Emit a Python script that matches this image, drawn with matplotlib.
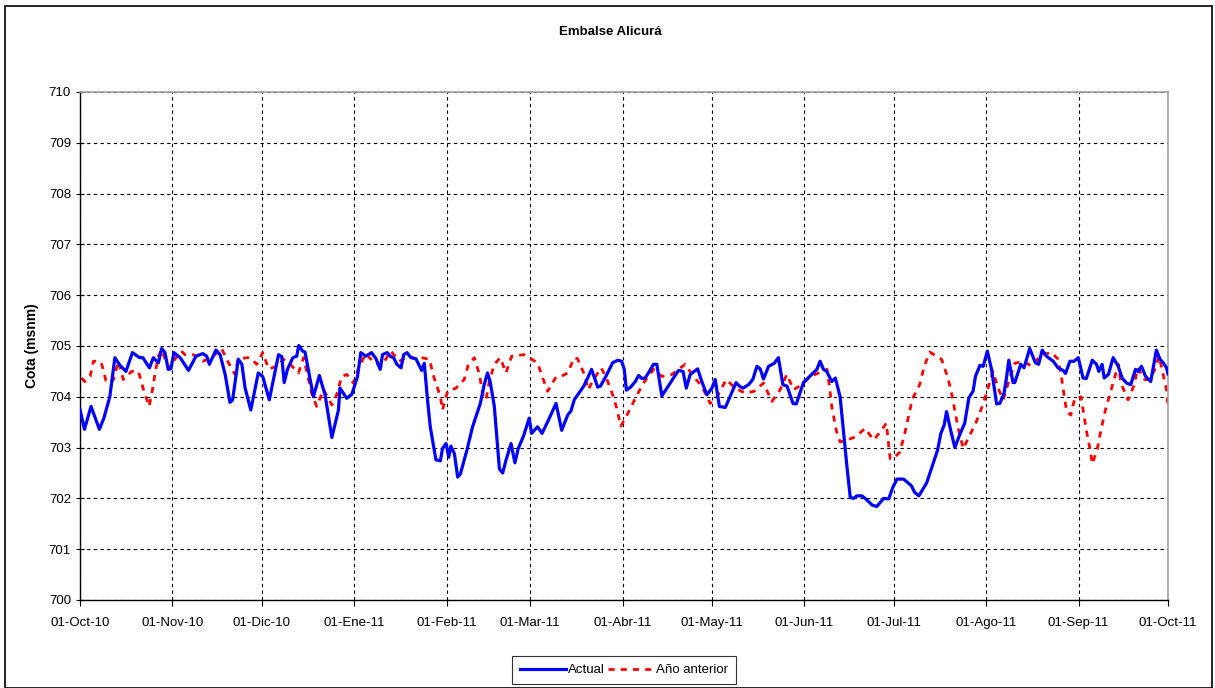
import matplotlib.pyplot as plt
import matplotlib.patches as patches
import pandas as pd

plt.rcParams['font.family'] = ['Liberation Sans', 'DejaVu Sans']

# Datos (días desde 01-Oct-10, cota en m s.n.m.)
actual_days = [0, 1.5, 3.7, 6.5, 8, 10, 11.7, 13.4, 15.4, 17.6, 20, 21.1, 23.3, 24.6, 26.3, 27.4, 28.5,
               29.6, 30.5, 31.5, 33.6, 36.4, 38.9, 41.2, 42.5, 43.4, 45.6, 47, 48.7, 50.3, 51.2, 53.1,
               54.3, 55.4, 57.3, 59.8, 61.3, 63.5, 66.6, 67.7, 68.5, 69.6, 71.4, 72.7, 73.4, 74.7, 75.5,
               78.3, 80.3, 82.2, 84.5, 86.7, 87.2, 89.5, 91.2, 93.1, 94.2, 95.9, 97.8, 99.3, 100.7,
               101.5, 103, 104.3, 105.2, 106.3, 107.7, 108.6, 109.7, 111, 112.7, 114.6, 115.5, 116.6,
               117.5, 119.4, 120.9, 121.6, 122.8, 123.7, 124.4, 125.6, 126.7, 127.6, 129.8, 131.7,
               134.3, 135.6, 136.7, 137.6, 139, 140.7, 141.8, 142.9, 144.6, 145.9, 147, 148.8, 150.7,
               151.5, 153.5, 155, 156.9, 159.7, 161.6, 163.6, 164.7, 165.8, 169, 170.3, 171.6, 173.7,
               174.6, 176.4, 178.7, 180.4, 181.7, 182.6, 183.3, 184.7, 186.3, 187.4, 188.5, 189.6,
               190.7, 192.4, 193.5, 195.2, 196.9, 199.1, 200.8, 202.3, 203.4, 204.7, 207.2, 208.6,
               210.3, 212, 213.1, 214.5, 216.5, 218.1, 220.1, 221.2, 222.4, 224.3, 225.7, 227.1, 228.2,
               229.3, 231, 232.9, 234.3, 235.8, 237.2, 239.2, 240.3, 242.7, 245.5, 247.2, 248.3, 249.4,
               250.5, 252.2, 253.4, 255, 256.2, 257.3, 258.4, 259.5, 260.6, 262.3, 264, 265.7, 267.3,
               269.6, 271.3, 272.7, 274.1, 276.3, 278.9, 280, 281.4, 284, 285.6, 287.7, 288.8, 289.9,
               290.7, 292.1, 293.5, 295.1, 296.8, 298.2, 299.6, 300.4, 301.9, 303, 304.4, 305.8, 307.5,
               308.6, 310, 310.8, 311.6, 313, 313.6, 315.6, 316.7, 318.6, 320.5, 321.6, 322.8, 324.2,
               326.5, 328.1, 329.8, 330.6, 332.1, 333.5, 334.9, 336.5, 337.6, 339.6, 341, 341.8, 342.9,
               343.6, 345, 346.6, 348.3, 349.6, 351.1, 352.5, 354.1, 355, 356.1, 357.5, 359.2, 361.1,
               362.3, 363.4, 364.5, 365]
actual_vals = [703.75, 703.36, 703.81, 703.36, 703.58, 704.0, 704.77, 704.62, 704.5, 704.87, 704.77,
               704.77, 704.57, 704.77, 704.67, 704.95, 704.87, 704.54, 704.55, 704.87, 704.77, 704.52,
               704.8, 704.85, 704.8, 704.64, 704.92, 704.83, 704.44, 703.89, 703.94, 704.74, 704.64,
               704.17, 703.74, 704.47, 704.4, 703.94, 704.83, 704.79, 704.28, 704.54, 704.77, 704.8,
               705.01, 704.9, 704.88, 704.0, 704.42, 704.04, 703.2, 703.74, 704.17, 703.97, 704.05,
               704.4, 704.87, 704.8, 704.87, 704.75, 704.54, 704.83, 704.87, 704.79, 704.77, 704.64,
               704.57, 704.83, 704.87, 704.77, 704.75, 704.52, 704.66, 703.93, 703.41, 702.76, 702.74,
               702.98, 703.08, 702.81, 703.03, 702.88, 702.42, 702.48, 702.95, 703.41, 703.87, 704.24,
               704.47, 704.3, 703.81, 702.58, 702.5, 702.75, 703.08, 702.7, 702.98, 703.23, 703.58,
               703.28, 703.41, 703.28, 703.51, 703.87, 703.34, 703.64, 703.72, 703.94, 704.21, 704.37,
               704.54, 704.19, 704.21, 704.4, 704.67, 704.72, 704.7, 704.54, 704.13, 704.19, 704.3,
               704.42, 704.36, 704.37, 704.47, 704.64, 704.64, 704.02, 704.17, 704.37, 704.52, 704.5,
               704.17, 704.44, 704.55, 704.3, 704.04, 704.17, 704.34, 703.81, 703.79, 704.01, 704.28,
               704.21, 704.17, 704.24, 704.34, 704.6, 704.55, 704.35, 704.6, 704.66, 704.77, 704.24,
               704.21, 703.87, 703.86, 704.28, 704.44, 704.54, 704.7, 704.54, 704.5, 704.3, 704.37,
               704.0, 703.28, 702.62, 702.02, 702.0, 702.05, 702.05, 701.97, 701.87, 701.84, 702.0,
               701.99, 702.22, 702.38, 702.38, 702.25, 702.12, 702.05, 702.3, 702.58, 702.95, 703.28,
               703.44, 703.71, 703.34, 703.0, 703.25, 703.48, 703.98, 704.11, 704.4, 704.62, 704.6,
               704.9, 704.54, 703.86, 703.87, 704.07, 704.37, 704.72, 704.28, 704.28, 704.64, 704.57,
               704.95, 704.67, 704.64, 704.92, 704.8, 704.7, 704.57, 704.52, 704.46, 704.7, 704.7,
               704.77, 704.37, 704.36, 704.72, 704.64, 704.5, 704.64, 704.37, 704.44, 704.77, 704.6,
               704.37, 704.27, 704.24, 704.54, 704.5, 704.6, 704.4, 704.3, 704.92, 704.74, 704.67,
               704.57, 704.45]

prev_days = [0.5, 1.6, 3.4, 4.5, 6.7, 7.3, 8.7, 10, 11.2, 12.9, 14.5, 17.3, 19.6, 21.3, 23.2, 24.4,
             25.2, 26.3, 27.4, 29.6, 34, 35.2, 38, 41.4, 44.7, 47.5, 49.8, 52, 53, 56, 57.1, 59.3,
             61.3, 63.3, 66.2, 68.2, 70.5, 73.3, 75, 76.3, 77.7, 79.4, 81.7, 84.5, 86.1, 87.8, 89.5,
             91.7, 93.7, 95.9, 98.2, 101, 104.3, 107.1, 110.5, 112.7, 114.6, 117.2, 118.8, 120.9,
             121.6, 123.3, 126.1, 128.9, 130.3, 132.3, 134, 135.1, 136.2, 137.3, 139, 141, 142.9,
             144.8, 149, 153.5, 155.4, 156.9, 159.7, 161.4, 163.6, 165.8, 166.9, 169.2, 170.5, 171.9,
             174.8, 176.4, 177.6, 178.7, 180.1, 181.4, 183.5, 186.3, 189, 192.4, 195.2, 198.6, 203,
             205.8, 208.6, 211.4, 213.7, 216.8, 219.8, 223.2, 226.2, 229.3, 232.1, 234.9, 237.1,
             239.4, 242.2, 245, 247.8, 250.6, 251.5, 252.2, 253.7, 255, 257.3, 260.1, 263.4, 266.2,
             268.5, 270.5, 271.8, 272.8, 275, 276.7, 279.2, 281.7, 283.2, 285.1, 289, 291.2, 292.6,
             294.6, 296.3, 298.2, 300.7, 303, 304.7, 306.3, 308, 309.7, 311.9, 313.6, 316.7, 319.2,
             322.6, 326, 328.1, 329.3, 330.2, 331, 332.4, 333.7, 335.8, 336.6, 337.7, 338.8, 339.6,
             341.3, 342.5, 344, 345.5, 347.2, 348.3, 349.2, 351.6, 353.7, 354.8, 357.2, 358.8, 360.6,
             362, 364.5, 365]
prev_vals = [704.37, 704.3, 704.4, 704.7, 704.7, 704.64, 704.32, 704.27, 704.34, 704.7, 704.34, 704.5,
             704.5, 704.14, 703.81, 704.17, 704.47, 704.8, 704.93, 704.57, 704.9, 704.83, 704.83,
             704.7, 704.8, 704.95, 704.67, 704.44, 704.74, 704.77, 704.77, 704.64, 704.87, 704.55,
             704.6, 704.74, 704.64, 704.47, 704.77, 704.44, 704.07, 703.81, 704.14, 703.84, 704.04,
             704.4, 704.44, 704.27, 704.6, 704.85, 704.7, 704.6, 704.9, 704.7, 704.8, 704.74, 704.77,
             704.74, 704.37, 704.01, 703.74, 704.11, 704.17, 704.34, 704.64, 704.77, 704.44, 704.05,
             703.94, 704.3, 704.64, 704.77, 704.47, 704.8, 704.83, 704.67, 704.34, 704.11, 704.39,
             704.4, 704.47, 704.77, 704.75, 704.44, 704.14, 704.3, 704.57, 704.4, 704.21, 704.04,
             703.77, 703.42, 703.64, 703.97, 704.27, 704.54, 704.4, 704.44, 704.64, 704.4, 704.21,
             703.87, 704.0, 704.34, 704.17, 704.07, 704.11, 704.27, 703.91, 704.14, 704.44, 704.14,
             704.24, 704.4, 704.47, 704.54, 704.17, 703.81, 703.34, 703.11, 703.15, 703.21, 703.38,
             703.15, 703.31, 703.48, 702.78, 702.78, 702.91, 703.28, 703.95, 704.24, 704.6, 704.88,
             704.74, 704.37, 704.01, 703.38, 702.98, 703.21, 703.51, 703.86, 704.19, 704.5, 704.17,
             703.94, 704.37, 704.66, 704.7, 704.6, 704.83, 704.87, 704.74, 704.37, 704.01, 703.71,
             703.64, 703.97, 704.0, 703.71, 703.31, 702.98, 702.68, 702.98, 703.34, 703.74, 704.05,
             704.4, 704.64, 704.27, 703.94, 704.24, 704.57, 704.34, 704.34, 704.54, 704.8, 704.14,
             703.81]

tick_dates = pd.date_range('2010-10-01', '2011-10-01', freq='MS')
tick_labels = ['01-Oct-10', '01-Nov-10', '01-Dic-10', '01-Ene-11', '01-Feb-11', '01-Mar-11',
               '01-Abr-11', '01-May-11', '01-Jun-11', '01-Jul-11', '01-Ago-11', '01-Sep-11',
               '01-Oct-11']

start = pd.Timestamp('2010-10-01')
actual_x = start + pd.to_timedelta(actual_days, unit='D')
prev_x = start + pd.to_timedelta(prev_days, unit='D')

fig = plt.figure(figsize=(12.15, 6.88), dpi=100)
ax = fig.add_axes([80 / 1215, 88 / 688, 1088 / 1215, 508 / 688])

ax.plot(actual_x, actual_vals, color='#0000ff', lw=2.3, label='Actual', zorder=3)
ax.plot(prev_x, prev_vals, color='#ff0000', lw=2.0, linestyle=(0, (2.2, 2.2)),
        label='Año anterior', zorder=2)

ax.set_xlim(tick_dates[0], tick_dates[-1])
ax.set_ylim(700, 710)
ax.set_xticks(tick_dates)
ax.set_xticklabels(tick_labels, fontsize=9.5)
ax.set_yticks(range(700, 711))
ax.tick_params(axis='y', labelsize=9.5, direction='inout', length=6, width=0.8)
ax.tick_params(axis='x', direction='out', length=4, width=0.8, pad=8)
ax.grid(True, color='black', linestyle=(0, (3, 3)), linewidth=0.8)
ax.set_axisbelow(True)

for s in ['top', 'right']:
    ax.spines[s].set_color('#a0a0a0')
    ax.spines[s].set_linewidth(1.2)
for s in ['left', 'bottom']:
    ax.spines[s].set_color('black')
    ax.spines[s].set_linewidth(1.0)

ax.set_ylabel('Cota (msnm)', fontsize=10, fontweight='bold', labelpad=7)
fig.text(610 / 1215, 1 - 32 / 688, 'Embalse Alicurá', ha='center', va='center',
         fontsize=9.5, fontweight='bold')

leg = fig.legend(loc='center', bbox_to_anchor=(624 / 1215, 1 - 670 / 688), ncol=2,
                 fontsize=9.5, frameon=True, fancybox=False, handlelength=3.5,
                 handletextpad=0.1, columnspacing=0.3, borderpad=0.6)
leg.get_frame().set_edgecolor('black')
leg.get_frame().set_linewidth(0.8)

# marco exterior
fig.patches.append(patches.Rectangle((5 / 1215, 0), 1207 / 1215, 1 - 6 / 688,
                                     transform=fig.transFigure, fill=False,
                                     edgecolor='black', linewidth=1.2))

fig.savefig('out.png', dpi=100)
plt.close(fig)
